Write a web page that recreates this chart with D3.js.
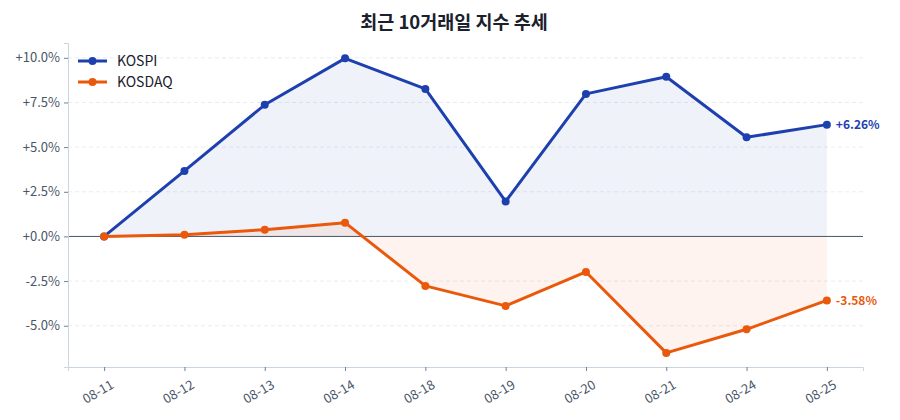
<!DOCTYPE html>
<html>
<head>
<meta charset="utf-8">
<script src="https://cdn.jsdelivr.net/npm/d3@7"></script>
<style>
  body { margin: 0; background: #fff; }
  svg text { font-family: "Noto Sans CJK KR", "Noto Sans", sans-serif; }
</style>
</head>
<body>
<div id="chart"></div>
<script>
const dates = ["08-11", "08-12", "08-13", "08-14", "08-18", "08-19", "08-20", "08-21", "08-24", "08-25"]
const kospi = [0, 3.67, 7.37, 9.97, 8.26, 1.96, 7.98, 8.94, 5.55, 6.26]
const kosdaq = [0, 0.10, 0.38, 0.77, -2.77, -3.89, -1.99, -6.52, -5.20, -3.58]
const yTicks = [-5, -2.5, 0, 2.5, 5, 7.5, 10]

;(function() {
    const width = 900, height = 420
    const margin = {top: 43, right: 37, bottom: 53, left: 68}
    const w = width - margin.left - margin.right
    const h = height - margin.top - margin.bottom

    const svg = d3.select("#chart").append("svg")
        .attr("width", width)
        .attr("height", height)

    svg.append("text")
        .attr("x", width / 2 + 4)
        .attr("y", 29)
        .attr("text-anchor", "middle")
        .attr("font-size", 18.5)
        .attr("font-weight", "bold")
        .attr("fill", "#1a202c")
        .text("최근 10거래일 지수 추세")

    const g = svg.append("g")
        .attr("transform", "translate(" + margin.left + "," + margin.top + ")")

    const x = d3.scaleLinear().domain([-0.45, dates.length - 1 + 0.45]).range([0, w])
    const y = d3.scaleLinear().domain([-7.31, 10.83]).range([h, 0])

    // grid
    g.append("g").selectAll("line")
      .data(yTicks.filter(d => d !== 0))
      .join("line")
        .attr("x1", 0).attr("x2", w)
        .attr("y1", d => y(d)).attr("y2", d => y(d))
        .attr("stroke", "#e2e8f0")
        .attr("stroke-dasharray", "4,3")
        .attr("stroke-width", 0.8)

    const series = [
        {name: "KOSPI", values: kospi, color: "#1e40af", fill: "rgba(30,64,175,0.07)"},
        {name: "KOSDAQ", values: kosdaq, color: "#ea580c", fill: "rgba(234,88,12,0.07)"}
    ]

    const area = d3.area()
        .x((d, i) => x(i))
        .y0(y(0))
        .y1(d => y(d))

    series.forEach(s => {
        g.append("path")
          .datum(s.values)
          .attr("fill", s.fill)
          .attr("d", area)
    })

    // zero line
    g.append("line")
        .attr("x1", 0).attr("x2", w)
        .attr("y1", y(0)).attr("y2", y(0))
        .attr("stroke", "#4a5568")
        .attr("stroke-width", 1)

    const line = d3.line()
        .x((d, i) => x(i))
        .y(d => y(d))

    series.forEach(s => {
        g.append("path")
          .datum(s.values)
          .attr("fill", "none")
          .attr("stroke", s.color)
          .attr("stroke-width", 3)
          .attr("stroke-linejoin", "round")
          .attr("d", line)
        g.append("g").selectAll("circle")
          .data(s.values)
          .join("circle")
            .attr("cx", (d, i) => x(i))
            .attr("cy", d => y(d))
            .attr("r", 4)
            .attr("fill", s.color)
        const last = s.values[s.values.length - 1]
        g.append("text")
          .attr("x", x(s.values.length - 1) + 9)
          .attr("y", y(last))
          .attr("dy", "0.35em")
          .attr("font-size", 12)
          .attr("font-weight", "bold")
          .attr("fill", s.color)
          .text((last > 0 ? "+" : "") + last.toFixed(2) + "%")
    })

    // axes
    const yAxis = g.append("g")
        .call(d3.axisLeft(y).tickValues(yTicks).tickSize(4).tickPadding(4)
            .tickFormat(d => (d >= 0 ? "+" : "") + d.toFixed(1) + "%"))
    yAxis.select(".domain").attr("stroke", "#cbd5e0")
    yAxis.selectAll(".tick line").attr("stroke", "#718096")
    yAxis.selectAll("text").attr("font-size", 13).attr("fill", "#4a5568")

    const xAxis = g.append("g")
        .attr("transform", "translate(0," + h + ")")
        .call(d3.axisBottom(x).tickValues(d3.range(dates.length)).tickSize(4).tickPadding(7)
            .tickFormat(i => dates[i]))
    xAxis.select(".domain").attr("stroke", "#cbd5e0")
    xAxis.selectAll(".tick line").attr("stroke", "#718096")
    xAxis.selectAll("text")
        .attr("font-size", 13)
        .attr("fill", "#4a5568")
        .attr("text-anchor", "end")
        .attr("dx", "-0.1em")
        .attr("dy", "0.9em")
        .attr("transform", "rotate(-30)")

    // legend
    const legend = g.append("g").attr("transform", "translate(10,18)")
    series.forEach((s, i) => {
        const row = legend.append("g").attr("transform", "translate(0," + i * 21 + ")")
        row.append("line")
          .attr("x1", 0).attr("x2", 29)
          .attr("stroke", s.color).attr("stroke-width", 3)
        row.append("circle").attr("cx", 14.5).attr("r", 4).attr("fill", s.color)
        row.append("text")
          .attr("x", 39).attr("dy", "0.35em")
          .attr("font-size", 14)
          .attr("fill", "#1a202c")
          .text(s.name)
    })
})()
</script>
</body>
</html>
